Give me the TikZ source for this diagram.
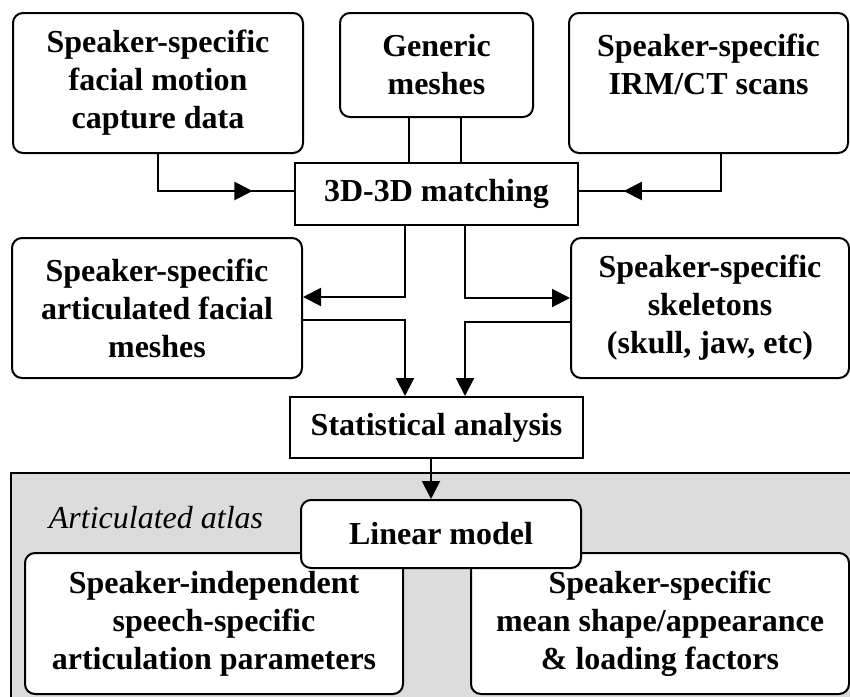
\documentclass[tikz,border=0pt]{standalone}
\usepackage{fontspec}
\setmainfont{Liberation Serif}
\usetikzlibrary{arrows.meta,positioning,decorations.markings}
\definecolor{atlasgray}{RGB}{220,220,220}

\begin{document}
\begin{tikzpicture}[
  x=0.5pt,y=-0.5pt,
  every node/.style={font=\fontsize{16}{19}\selectfont\bfseries,align=center,inner sep=0pt},
  rbox/.style={draw,line width=1pt,rounded corners=5pt,fill=white},
  sbox/.style={draw,line width=1pt,fill=white},
  arr/.style={-{Triangle[length=9pt,width=9pt]},line width=1pt},
  midarr/.style={line width=1pt,postaction={decorate},
    decoration={markings,mark=at position #1 with {\arrow{Triangle[length=9pt,width=9pt]}}}}
]
\clip (0,0) rectangle (850,696);
\fill[white] (0,0) rectangle (850,696);

% ============================================================
% TOP ROW: input data
% ============================================================

\node[rbox,minimum width=145pt,minimum height=70pt] (cap) at (158,83) {Speaker-specific\\facial motion\\capture data};
\node[rbox,minimum width=96.5pt,minimum height=52pt] (gen) at (436.5,65) {Generic\\meshes};
\node[rbox,minimum width=139.5pt,minimum height=70pt] (irm) at (708.5,83) {Speaker-specific\\IRM/CT scans\\\mbox{}};

\node[sbox,minimum width=141.5pt,minimum height=31pt] (match) at (436.5,194) {3D-3D matching};

\draw[midarr=0.76] (cap.south) |- ([yshift=1.5pt]match.west);
\draw[midarr=0.75] ([xshift=6.25pt]irm.south) |- ([yshift=1.5pt]match.east);
\draw[line width=1pt] ([xshift=-13.75pt]gen.south) -- ([xshift=-13.75pt]gen.south |- match.north);
\draw[line width=1pt] ([xshift=12.25pt]gen.south) -- ([xshift=12.25pt]gen.south |- match.north);

% ============================================================
% MIDDLE ROW: articulated meshes and skeletons
% ============================================================

\node[rbox,minimum width=145pt,minimum height=70pt] (art) at (157,308) {Speaker-specific\\articulated facial\\meshes};
\node[rbox,minimum width=139pt,minimum height=70pt] (skel) at (710,308) {Speaker-specific\\skeletons\\(skull, jaw, etc)};

\node[sbox,minimum width=146.5pt,minimum height=30.5pt] (stat) at (436.5,427.5) {Statistical analysis};

\draw[arr] ([xshift=-15.75pt]match.south) |- ([yshift=5.5pt]art.east);
\draw[arr] ([xshift=14.25pt]match.south) |- ([yshift=5pt]skel.west);
\draw[arr] ([yshift=-6pt]art.east) -| ([xshift=-15.75pt]stat.north);
\draw[arr] ([yshift=-7pt]skel.west) -| ([xshift=14.25pt]stat.north);

% ============================================================
% BOTTOM: articulated atlas
% ============================================================

\draw[line width=1pt,fill=atlasgray] (11,473) rectangle (870,720);
\node[font=\fontsize{16}{19}\selectfont\itshape] (atlaslbl) at (156,518) {Articulated atlas};

\node[rbox,minimum width=189pt,minimum height=70.5pt] (spi) at (214,623.5) {Speaker-independent\\speech-specific\\articulation parameters};
\node[rbox,minimum width=189pt,minimum height=70.5pt] (sps) at (660,623.5) {Speaker-specific\\mean shape/appearance\\\& loading factors};
\node[rbox,minimum width=140pt,minimum height=34pt] (lin) at (441,534) {Linear model};

\draw[arr] ([xshift=-2.75pt]stat.south) -- ([xshift=-2.75pt]stat.south |- lin.north);

\end{tikzpicture}
\end{document}
